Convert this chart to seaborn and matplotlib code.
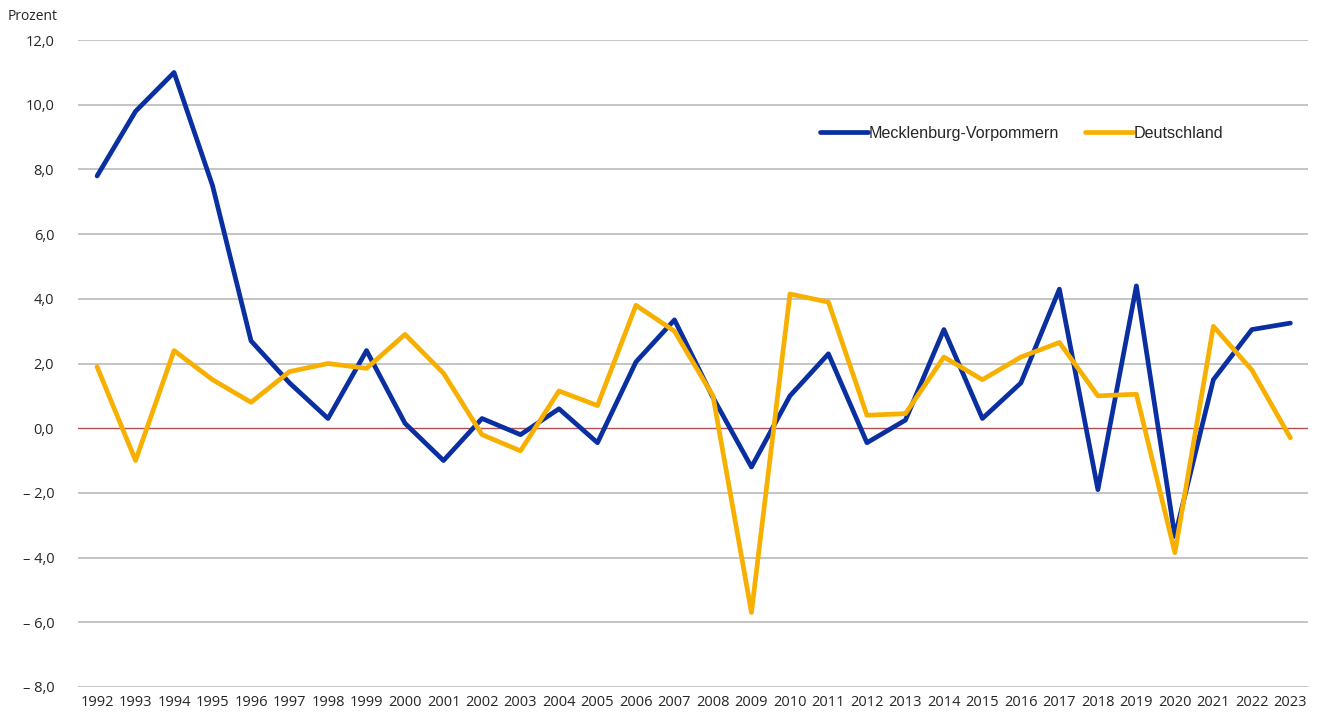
import matplotlib
matplotlib.use("Agg")
import matplotlib.pyplot as plt
import seaborn as sns
import pandas as pd
import numpy as np

years = list(range(1992, 2024))
mv = [7.8, 9.8, 11.0, 7.5, 2.7, 1.4, 0.3, 2.4, 0.15, -1.0,
      0.3, -0.2, 0.6, -0.45, 2.05, 3.35, 0.95, -1.2, 1.0, 2.3,
      -0.45, 0.25, 3.05, 0.3, 1.4, 4.3, -1.9, 4.4, -3.35, 1.5,
      3.05, 3.25]
de = [1.9, -1.0, 2.4, 1.5, 0.8, 1.75, 2.0, 1.85, 2.9, 1.7,
      -0.2, -0.7, 1.15, 0.7, 3.8, 3.0, 1.0, -5.7, 4.15, 3.9,
      0.4, 0.45, 2.2, 1.5, 2.2, 2.65, 1.0, 1.05, -3.85, 3.15,
      1.8, -0.3]
series_names = ["Mecklenburg-Vorpommern", "Deutschland"]
yticks = [12, 10, 8, 6, 4, 2, 0, -2, -4, -6, -8]

df = pd.DataFrame({
    "Jahr": years * 2,
    "Wert": mv + de,
    "Region": [series_names[0]] * len(years) + [series_names[1]] * len(years),
})

sns.set_theme(style="white")
plt.rcParams["font.family"] = ["Open Sans", "DejaVu Sans"]

fig = plt.figure(figsize=(13.19, 7.17), dpi=100)
ax = fig.add_axes([0.059, 0.042, 0.933, 0.902])

for y in yticks:
    if y == 0:
        ax.axhline(0, color="#B05050", lw=1.0, zorder=1)
    else:
        ax.axhline(y, color="#BFBFBF", lw=1.3, zorder=1)

palette = {series_names[0]: "#0A2FA0", series_names[1]: "#F7B000"}
sns.lineplot(data=df, x="Jahr", y="Wert", hue="Region", palette=palette,
             linewidth=3.4, ax=ax, zorder=3, legend=False)

ax.set_xlim(1991.5, 2023.47)
ax.set_ylim(-8, 12)
ax.set_xticks(years)
ax.set_xticklabels([str(y) for y in years], fontsize=10.5, color="#262626")
ax.set_yticks(yticks)
def fmt(v):
    s = f"{abs(v):.1f}".replace(".", ",")
    return ("\u2013 " + s) if v < 0 else s
ax.set_yticklabels([fmt(v) for v in yticks], fontsize=10.5, color="#262626")
ax.tick_params(axis="both", length=0)
ax.tick_params(axis="y", pad=17)
ax.tick_params(axis="x", pad=6)
for s in ax.spines.values():
    s.set_visible(False)
ax.set_xlabel("")
ax.set_ylabel("")

from matplotlib.lines import Line2D
handles = [Line2D([0], [0], color=palette[n], lw=3.4, solid_capstyle="round") for n in series_names]
ax.legend(handles, series_names, loc="upper left", bbox_to_anchor=(0.591, 0.89),
          ncol=2, frameon=False, handlelength=3.0, handletextpad=0.05,
          columnspacing=1.6, prop={"family": "Liberation Sans", "size": 11.6})

fig.text(0.006, 0.987, "Prozent", fontsize=10, color="#262626", va="top", ha="left")

fig.savefig("out.png", dpi=100, facecolor="white")
